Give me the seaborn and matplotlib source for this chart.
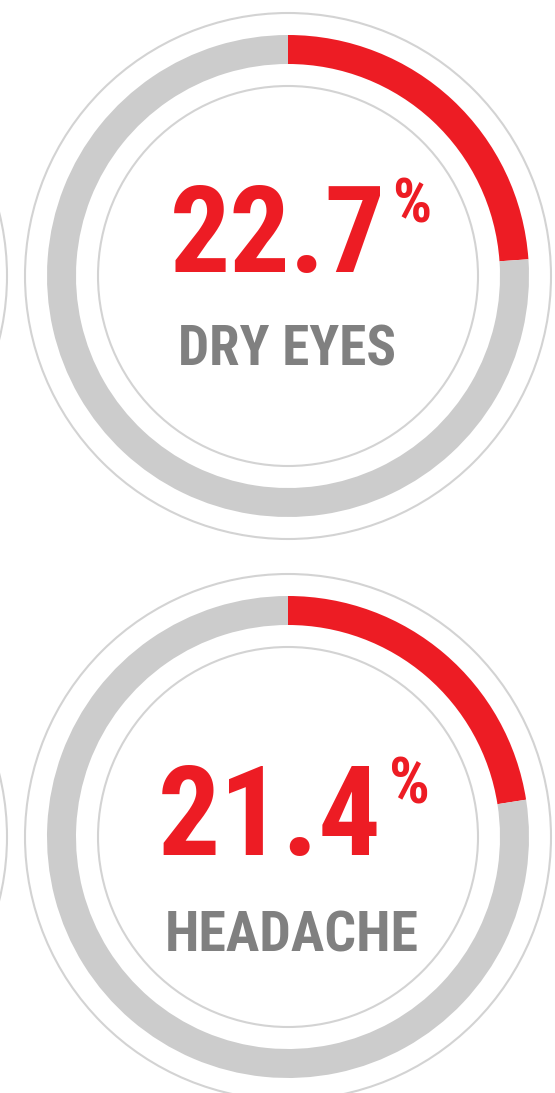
import os
import re
import matplotlib
matplotlib.use("Agg")
import matplotlib.pyplot as plt
from matplotlib import font_manager as fm
from matplotlib.textpath import TextPath
from matplotlib.patches import Circle
import seaborn as sns

# ---------------- data ----------------
labels = ["DRY EYES", "HEADACHE"]
values = [22.7, 21.4]          # percent
GAUGE_MAX = 95.0               # value represented by a full ring (as drawn in the picture)

# ---------------- style / layout ----------------
W, H = 555, 1093
DPI = 100
RED = "#ED1C24"
RING_GRAY = "#CCCCCC"
LINE_GRAY = "#D3D3D3"
TEXT_GRAY = "#808080"

centers_px = [(288, 276), (288, 837)]
R_OUTER_LINE = 263
R_RING = 241
RING_W = 29
R_INNER_LINE = 190
NEIGHBOR_DX = -544            # partially visible gauge to the left

# text boxes in pixel coords (left, top, right, baseline)
num_boxes = [(174, 177, 381, 273), (162, 757, 377, 856)]
pct_boxes = [(395, 178, 443, 223), (392, 757, 441, 804)]
lab_boxes = [(181, 324, 394, 366), (168, 909, 417, 952)]


def norm(s):
    return re.sub(r"[^a-z0-9]", "", s.lower())


def find_font(cands, fallback_weight="bold"):
    files = {}
    for f in fm.fontManager.ttflist:
        stem = norm(os.path.splitext(os.path.basename(f.fname))[0])
        files.setdefault(stem, f.fname)
    for c in cands:
        if c in files:
            return fm.FontProperties(fname=files[c])
    return fm.FontProperties(family="DejaVu Sans", weight=fallback_weight)


num_font = find_font(["notosanscondensedextrabold", "robotocondensedbold",
                      "notosanscondensedbold", "opensanscondbold",
                      "opensanscondensedbold", "dejavusanscondensedbold",
                      "liberationsansnarrowbold"])
lab_font = find_font(["robotocondensedbold", "notosanscondensedbold",
                      "opensanscondbold", "opensanscondensedbold",
                      "dejavusanscondensedbold", "liberationsansnarrowbold"])

sns.set_theme(style="white")

fig = plt.figure(figsize=(W / DPI, H / DPI), dpi=DPI)
ax = fig.add_axes([0, 0, 1, 1])


def place_text(s, box, color, fp, halign="left"):
    left, top, right, base = box
    tw, th = right - left, base - top
    ext = TextPath((0, 0), s, size=100, prop=fp).get_extents()
    ew, eh = ext.x1 - ext.x0, ext.y1 - ext.y0
    size_px = min(100 * tw / ew, 100 * th / eh)
    ink_w = ew * size_px / 100
    if halign == "center":
        left = left + (tw - ink_w) / 2
    x0 = left - ext.x0 * size_px / 100
    y_base_px = base + ext.y0 * size_px / 100
    p = fp.copy()
    p.set_size(size_px * 72 / DPI)
    ax.text(x0, H - y_base_px, s, fontproperties=p, color=color,
            ha="left", va="baseline")


for i, (lab, val) in enumerate(zip(labels, values)):
    cxp, cyp = centers_px[i]
    cx, cy = cxp, H - cyp
    # gauge ring
    ax.pie([val, GAUGE_MAX - val], colors=[RED, RING_GRAY], startangle=90,
           counterclock=False, radius=R_RING, center=(cx, cy),
           wedgeprops=dict(width=RING_W, linewidth=0), frame=True)
    # thin outline circles
    for r in (R_OUTER_LINE, R_INNER_LINE):
        ax.add_patch(Circle((cx, cy), r, fill=False, ec=LINE_GRAY, lw=1.5))
    # neighbouring gauge outline (cut off at left edge)
    ax.add_patch(Circle((cx + NEIGHBOR_DX, cy), R_OUTER_LINE, fill=False,
                        ec=LINE_GRAY, lw=1.5))
    # texts
    place_text(f"{val:.1f}", num_boxes[i], RED, num_font)
    place_text("%", pct_boxes[i], RED, num_font)
    place_text(lab, lab_boxes[i], TEXT_GRAY, lab_font, halign="center")

ax.set_xlim(0, W)
ax.set_ylim(0, H)
ax.set_aspect("equal")
ax.axis("off")
fig.savefig("out.png", dpi=DPI, facecolor="white")
